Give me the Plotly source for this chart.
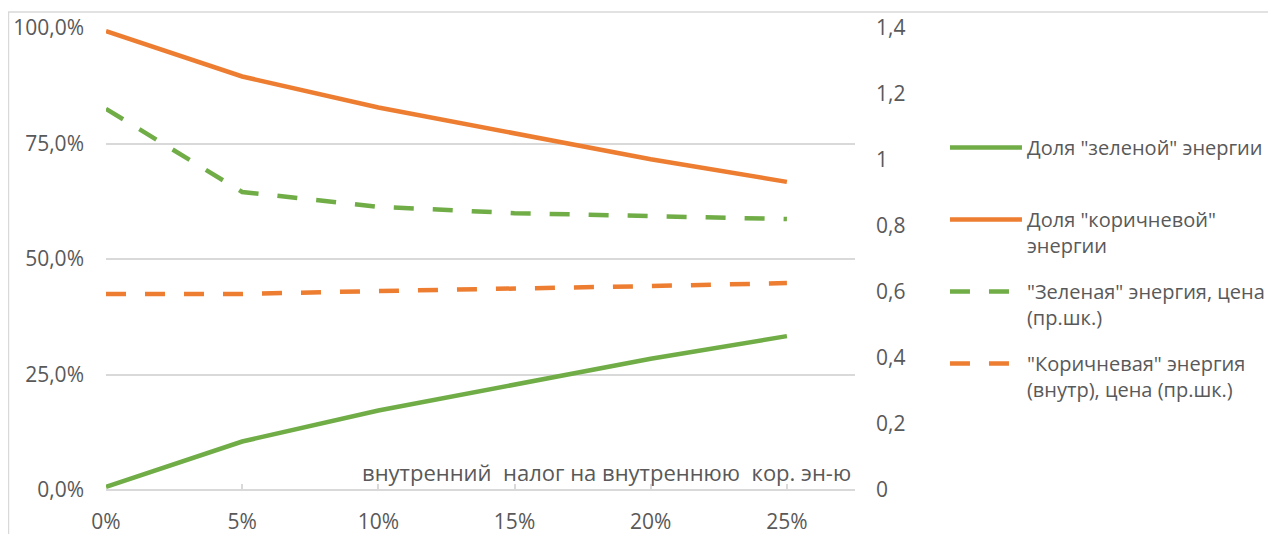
import plotly.graph_objects as go

categories = ["0%", "5%", "10%", "15%", "20%", "25%"]
green_share = [0.7, 10.5, 17.2, 22.9, 28.4, 33.3]
brown_share = [99.3, 89.5, 82.8, 77.1, 71.6, 66.7]
green_price = [1.155, 0.903, 0.858, 0.839, 0.830, 0.821]
brown_price = [0.594, 0.594, 0.603, 0.609, 0.618, 0.627]

left_ticks = [0, 25, 50, 75, 100]
left_labels = ["0,0%", "25,0%", "50,0%", "75,0%", "100,0%"]
right_ticks = [0, 0.2, 0.4, 0.6, 0.8, 1.0, 1.2, 1.4]
right_labels = ["0", "0,2", "0,4", "0,6", "0,8", "1", "1,2", "1,4"]

names = [
    'Доля "зеленой" энергии<br> ',
    'Доля "коричневой"<br>энергии',
    '"Зеленая" энергия, цена<br>(пр.шк.)',
    '"Коричневая" энергия<br>(внутр), цена (пр.шк.)',
]
axis_title = "внутренний\u00a0 налог на внутреннюю\u00a0 кор. эн-ю"

GREEN = "#70AD47"
ORANGE = "#ED7D31"
FONT = "Open Sans"
TXT = "#595959"

x = list(range(len(categories)))

fig = go.Figure()
fig.add_trace(go.Scatter(x=x, y=green_share, name=names[0], mode="lines",
                         line=dict(color=GREEN, width=4.5), legendgroup="a"))
fig.add_trace(go.Scatter(x=x, y=brown_share, name=names[1], mode="lines",
                         line=dict(color=ORANGE, width=4.5), legendgroup="b"))
fig.add_trace(go.Scatter(x=x, y=green_price, name=names[2], mode="lines", yaxis="y2",
                         line=dict(color=GREEN, width=4.5, dash="20px,19px"), legendgroup="c"))
fig.add_trace(go.Scatter(x=x, y=brown_price, name=names[3], mode="lines", yaxis="y2",
                         line=dict(color=ORANGE, width=4.5, dash="20px,19px"), legendgroup="d"))

fig.update_layout(
    width=1276, height=534,
    margin=dict(l=98, r=429, t=20, b=52, autoexpand=False),
    paper_bgcolor="white", plot_bgcolor="white",
    font=dict(family=FONT, size=21, color=TXT),
    xaxis=dict(range=[0, 5.5], tickmode="array", tickvals=x, ticktext=categories,
               showgrid=False, zeroline=False, showline=False, automargin=False,
               ticks="inside", ticklen=6, tickcolor="#d9d9d9", tickwidth=1.5,
               ticklabelstandoff=17, tickfont=dict(size=21, color=TXT)),
    yaxis=dict(range=[0, 100], tickmode="array", tickvals=left_ticks, ticktext=left_labels,
               showgrid=True, gridcolor="#d9d9d9", gridwidth=1.5, zeroline=True,
               zerolinecolor="#d9d9d9", zerolinewidth=1.5, showline=False, automargin=False,
               ticklabelstandoff=21, tickfont=dict(size=21, color=TXT)),
    yaxis2=dict(range=[0, 1.4], overlaying="y", side="right", tickmode="array",
                tickvals=right_ticks, ticktext=right_labels, showgrid=False,
                zeroline=False, showline=False, ticklabelstandoff=20, automargin=False,
                tickfont=dict(size=21, color=TXT)),
    legend=dict(xref="container", yref="container", x=0.7343, xanchor="left",
                y=0.7754, yanchor="top", valign="top", maxheight=420,
                font=dict(size=20, color=TXT), itemwidth=72, tracegroupgap=17,
                bgcolor="rgba(0,0,0,0)"),
    showlegend=True,
)

fig.add_annotation(text=axis_title, xref="paper", yref="paper", x=0.997, y=0.0,
                   xanchor="right", yanchor="bottom", yshift=1, showarrow=False,
                   font=dict(family=FONT, size=22, color=TXT))

fig.add_shape(type="rect", xref="paper", yref="paper", x0=-0.1302, x1=1.7,
              y0=-0.3, y1=1.0346, line=dict(color="#d9d9d9", width=1.5), layer="below")

fig.write_html("out.html")
